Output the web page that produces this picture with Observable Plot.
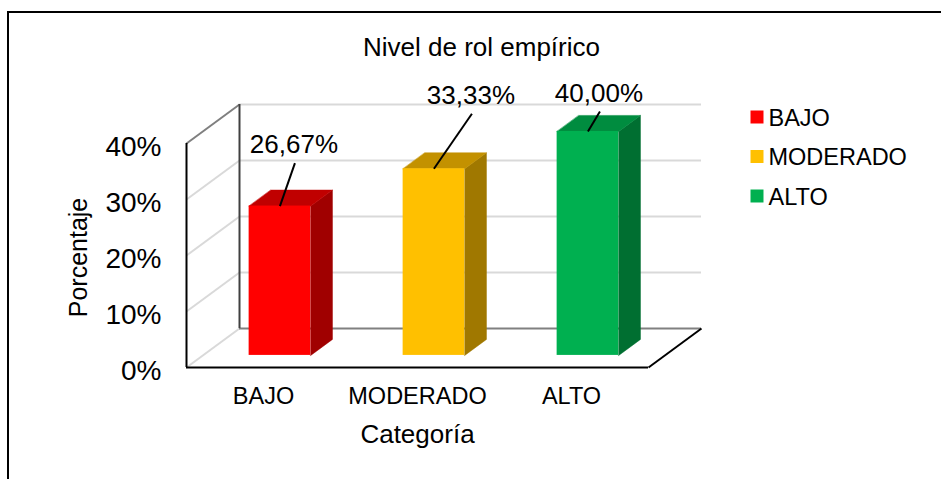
<!DOCTYPE html>
<html><head><meta charset="utf-8">
<script src="https://cdn.jsdelivr.net/npm/d3@7"></script>
<script src="https://cdn.jsdelivr.net/npm/@observablehq/plot@0.6"></script>
<style>
html,body{margin:0;padding:0;background:#fff;}
#wrap{position:relative;width:941px;height:479px;overflow:hidden;}
#border{position:absolute;left:7px;top:11px;width:945px;height:480px;border:2px solid #000;box-sizing:border-box;pointer-events:none;}
</style></head><body>
<div id="wrap"><div id="chart"></div><div id="border"></div></div>
<script>
// ---- data ----
const categories = ["BAJO", "MODERADO", "ALTO"];
const values = [26.67, 33.33, 40.00];
const valueLabels = ["26,67%", "33,33%", "40,00%"];
const yTicks = [0, 10, 20, 30, 40];
const title = "Nivel de rol empírico";
const xTitle = "Categoría";
const yTitle = "Porcentaje";

// ---- styles ----
const frontColors = ["#FF0000", "#FFC000", "#00B050"];
const topColors = ["#C00000", "#C39100", "#008C3F"];
const sideColors = ["#A00000", "#A07800", "#006F31"];
const FONT = "'Liberation Sans', Arial, Helvetica, sans-serif";

// layout: scale geometry
const W = 941, H = 479;
const mL = 186, mR = 293, mT = 143, mB = 112;
const pxX = 3 / (W - mL - mR);      // category units per pixel
const pxY = 40 / (H - mT - mB);     // percent per pixel
// oblique depth of the 3D box (pixels -> data units)
const DX = 53 * pxX, DY = 39 * pxY;
const F0 = 0.31, F1 = 0.72;          // bar depth (fraction of box depth)
const HALF = 0.2;                    // half bar width (category units)
const labelOffsets = [[14, -61], [37, -73], [11, -38]]; // px, from bar top
const leaderGap = [1, 18];

const bars = categories.map((c, i) => {
  const cx = i + 0.5 + F0 * DX;
  const base = F0 * DY;
  const top = values[i] + base;
  const lx = cx + labelOffsets[i][0] * pxX;
  const ly = top - labelOffsets[i][1] * pxY;
  return {c, i, v: values[i], cx, base, top, lx, ly,
    label: valueLabels[i], front: frontColors[i], topC: topColors[i], side: sideColors[i]};
});
const ddx = (F1 - F0) * DX, ddy = (F1 - F0) * DY;

const marks = [];
// back wall gridlines
marks.push(Plot.ruleY(yTicks.filter(t => t > 0), {y: t => t + DY, x1: DX, x2: 3 + DX, stroke: "#d9d9d9", strokeWidth: 2}));
// side wall gridlines
marks.push(Plot.link(yTicks.filter(t => t < 40), {x1: 0, y1: t => t, x2: DX, y2: t => t + DY, stroke: "#d9d9d9", strokeWidth: 2}));
marks.push(Plot.link([40], {x1: 0, y1: t => t, x2: DX, y2: t => t + DY, stroke: "#7f7f7f", strokeWidth: 2}));
// floor back edge
marks.push(Plot.ruleY([0], {y: t => t + DY, x1: DX, x2: 3 + DX, stroke: "#808080", strokeWidth: 2}));
// back vertical edge
marks.push(Plot.ruleX([DX], {x: d => d, y1: DY, y2: 40 + DY, stroke: "#404040", strokeWidth: 2}));
// front vertical axis
marks.push(Plot.ruleX([0], {y1: 0, y2: 40, stroke: "#000", strokeWidth: 2}));
// floor front & right edges
marks.push(Plot.ruleY([0], {x1: 0, x2: 3, stroke: "#000", strokeWidth: 2}));
marks.push(Plot.link([3], {x1: d => d, y1: 0, x2: d => d + DX, y2: DY, stroke: "#000", strokeWidth: 2}));

// bars: side & top faces
for (const b of bars) {
  const side = [
    {x: b.cx + HALF, y: b.base}, {x: b.cx + HALF + ddx, y: b.base + ddy},
    {x: b.cx + HALF + ddx, y: b.top + ddy}, {x: b.cx + HALF, y: b.top}];
  const topF = [
    {x: b.cx - HALF, y: b.top}, {x: b.cx + HALF, y: b.top},
    {x: b.cx + HALF + ddx, y: b.top + ddy}, {x: b.cx - HALF + ddx, y: b.top + ddy}];
  marks.push(Plot.line(side, {x: "x", y: "y", fill: b.side, stroke: b.side, strokeWidth: 0.5, curve: "linear-closed"}));
  marks.push(Plot.line(topF, {x: "x", y: "y", fill: b.topC, stroke: b.topC, strokeWidth: 0.5, curve: "linear-closed"}));
}
// bars: front faces
marks.push(Plot.rect(bars, {x1: d => d.cx - HALF, x2: d => d.cx + HALF, y1: "base", y2: "top", fill: "front"}));

// leader lines & labels
marks.push(Plot.link(bars, {x1: "cx", y1: "top", x2: d => d.lx + leaderGap[0] * pxX, y2: d => d.ly - leaderGap[1] * pxY, stroke: "#000", strokeWidth: 2}));
marks.push(Plot.text(bars, {x: "lx", y: "ly", text: "label", fontSize: 26, fill: "#000", lineAnchor: "middle"}));

// axes
marks.push(Plot.axisY({ticks: yTicks, tickFormat: d => d + "%", tickSize: 0, tickPadding: 25, fontSize: 28, label: null, dy: 4, fill: "#000"}));
marks.push(Plot.axisX({ticks: categories.map((_, i) => i + 0.5), tickFormat: d => categories[Math.round(d - 0.5)], tickSize: 0, tickPadding: 20, fontSize: 23.5, label: null, fill: "#000"}));

// titles
marks.push(Plot.text([title], {text: d => d, frameAnchor: "top", lineAnchor: "middle", textAnchor: "middle", dx: 64, dy: -95.5, fontSize: 26, fill: "#000"}));
marks.push(Plot.text([xTitle], {text: d => d, frameAnchor: "bottom", lineAnchor: "middle", textAnchor: "middle", dy: 67, fontSize: 26, fill: "#000"}));
marks.push(Plot.text([yTitle], {text: d => d, frameAnchor: "left", lineAnchor: "middle", textAnchor: "middle", rotate: -90, dx: -108, dy: 2, fontSize: 25, fill: "#000"}));

// legend
categories.forEach((c, i) => {
  marks.push(Plot.dot([c], {frameAnchor: "top-right", dx: 108.5, dy: -26.5 + 39.5 * i, symbol: "square", r: 7.33, fill: frontColors[i], stroke: "none"}));
  marks.push(Plot.text([c], {text: d => d, frameAnchor: "top-right", lineAnchor: "middle", textAnchor: "start", dx: 120, dy: -25.5 + 39.5 * i, fontSize: 23.5, fill: "#000"}));
});

const chart = Plot.plot({
  width: W, height: H,
  marginLeft: mL, marginRight: mR, marginTop: mT, marginBottom: mB,
  x: {type: "linear", domain: [0, 3]},
  y: {type: "linear", domain: [0, 40]},
  color: {type: "identity"},
  style: {fontFamily: FONT, background: "#fff", overflow: "visible"},
  marks
});
document.getElementById("chart").appendChild(chart);
</script>
</body></html>
